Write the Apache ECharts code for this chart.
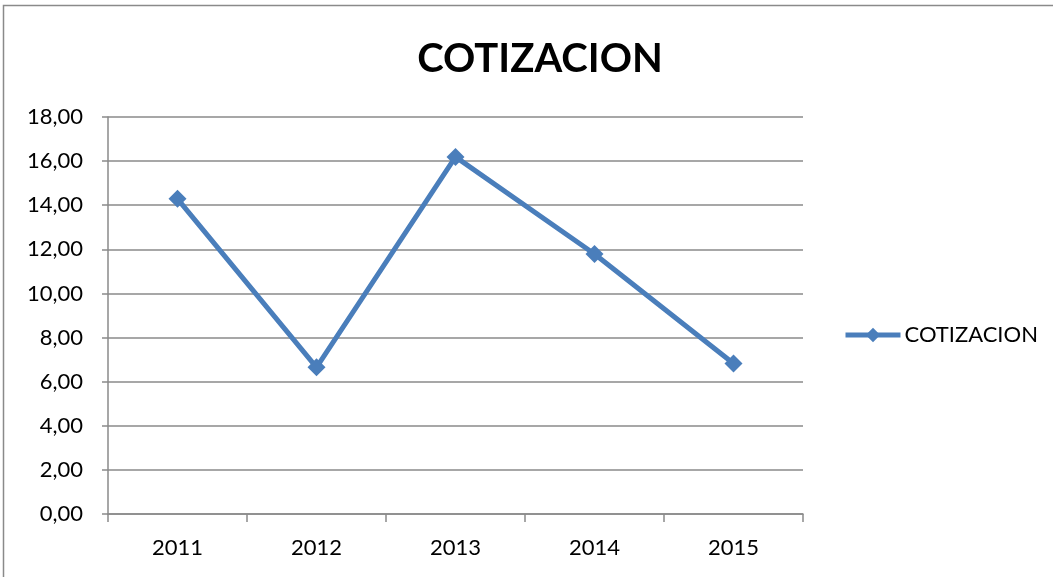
<!DOCTYPE html>
<html>
<head>
<meta charset="utf-8">
<script src="https://cdn.jsdelivr.net/npm/echarts@6/dist/echarts.min.js"></script>
<style>
  html, body { margin: 0; padding: 0; background: #fff; }
  #chart { width: 1053px; height: 577px; }
</style>
</head>
<body>
<div id="chart"></div>
<script>
const years = ['2011', '2012', '2013', '2014', '2015'];
const cotizacion = [14.29, 6.65, 16.19, 11.79, 6.82];
const seriesName = 'COTIZACION';

const font = 'Lato, "Open Sans", sans-serif';
const grey = '#8a8a8a';
const blue = '#4a7ebb';

let mychart = echarts.init(document.getElementById('chart'));
mychart.setOption({
  animation: false,
  graphic: [{
    type: 'rect',
    shape: { x: 3.5, y: 5.5, width: 1100, height: 650 },
    style: { fill: 'none', stroke: grey, lineWidth: 1.5 },
    silent: true
  }],
  title: {
    text: 'COTIZACION',
    left: 535,
    top: 34,
    textAlign: 'center',
    textStyle: { fontFamily: font, fontSize: 40, fontWeight: 'bold', color: '#000' }
  },
  legend: {
    data: [seriesName],
    left: 843,
    top: 324,
    padding: 0,
    itemWidth: 55,
    itemHeight: 18,
    itemGap: 4,
    lineStyle: { width: 5 },
    textStyle: { fontFamily: font, fontSize: 22, color: '#000', padding: [0, 0, 0, -1] }
  },
  grid: { left: 108, top: 117, width: 695, height: 397 },
  xAxis: {
    type: 'category',
    data: years,
    boundaryGap: true,
    axisLine: { lineStyle: { color: grey, width: 1.5 } },
    axisTick: { show: true, length: 8, inside: false, lineStyle: { color: grey, width: 1.5 } },
    axisLabel: { fontFamily: font, fontSize: 22, color: '#000', margin: 23 }
  },
  yAxis: {
    type: 'value',
    min: 0,
    max: 18,
    interval: 2,
    axisLine: { show: true, lineStyle: { color: grey, width: 1.5 } },
    axisTick: { show: true, length: 6, lineStyle: { color: grey, width: 1.5 } },
    splitLine: { lineStyle: { color: grey, width: 1.5 } },
    axisLabel: {
      fontFamily: font, fontSize: 22, color: '#000', margin: 25,
      formatter: function (v) { return v.toFixed(2).replace('.', ','); }
    }
  },
  series: [{
    name: seriesName,
    type: 'line',
    data: cotizacion,
    symbol: 'diamond',
    symbolSize: 18,
    lineStyle: { color: blue, width: 5 },
    itemStyle: { color: blue }
  }]
});
</script>
</body>
</html>
